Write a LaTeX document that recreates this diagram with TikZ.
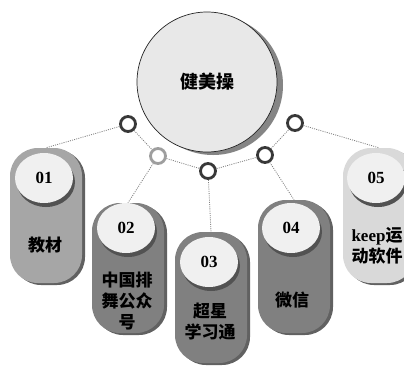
\documentclass[tikz,border=0pt]{standalone}
\usepackage{fontspec}
\setmainfont{Liberation Serif}
\newfontfamily\cjk{Noto Sans CJK SC}
\usetikzlibrary{positioning,shadows,shapes.geometric}

\begin{document}
\begin{tikzpicture}[x=1pt,y=-1pt,
  card/.style={rounded corners=28pt,minimum width=72pt,inner sep=0pt,
    general shadow={fill=black!62,shadow xshift=3pt,shadow yshift=-2pt}},
  numdisk/.style={ellipse,fill=black!6,minimum width=58pt,minimum height=50pt,inner sep=0pt,
    general shadow={fill=black!68,shadow xshift=2pt,shadow yshift=-4pt},
    font=\bfseries\fontsize{17}{20}\selectfont},
  tag/.style={align=center,inner sep=0pt,font=\cjk\bfseries\fontsize{17}{21}\selectfont},
  ring/.style={circle,draw=black!78,line width=2.8pt,fill=white,minimum size=15pt,inner sep=0pt},
  link/.style={draw=black!50,line width=0.8pt,dash pattern=on 1pt off 1.2pt}]
  \clip (0,0) rectangle (404,365);
  \fill[white] (0,0) rectangle (404,365);
  % centre
  \node[circle,fill=black!9,draw=black!85,line width=0.7pt,minimum size=140pt,
    general shadow={fill=black!48,shadow xshift=6pt,shadow yshift=-3pt},
    font=\cjk\bfseries\fontsize{18}{20}\selectfont] (hub) at (207,82) {健美操};
  % cards
  \node[card,fill=black!35,minimum height=135pt] (c1) at (46,215.5) {};
  \node[card,fill=black!50,minimum height=130pt] (c2) at (128,268) {};
  \node[card,fill=black!50,minimum height=131pt] (c3) at (211,297.5) {};
  \node[card,fill=black!50,minimum height=133pt] (c4) at (294,266.5) {};
  \node[card,fill=black!15,minimum height=135pt] (c5) at (379,215.5) {};
  \node[numdisk] (n1) at (44,178) {01};
  \node[numdisk] (n2) at (126,228) {02};
  \node[numdisk] (n3) at (209,262) {03};
  \node[numdisk] (n4) at (291,228) {04};
  \node[numdisk] (n5) at (376,178) {05};
  \node[tag] (l1) at (45,245) {教材};
  \node[tag] (l2) at (127,301) {中国排\\舞公众\\号};
  \node[tag] (l3) at (210,322) {超星\\学习通};
  \node[tag] (l4) at (292,300) {微信};
  \node[tag] (l5) at (377,246) {{\rmfamily\bfseries keep}运\\动软件};
  % rings
  \node[ring] (r1) at (128,124) {};
  \node[ring,draw=black!38] (r2) at (158,156) {};
  \node[ring] (r3) at (208,171) {};
  \node[ring] (r4) at (265,155) {};
  \node[ring] (r5) at (295,123) {};
  \draw[link] (r1) -- (r2) -- (r3) -- (r4) -- (r5);
  \draw[link] (r1) -- (c1.north);
  \draw[link] (r2) -- (c2.north);
  \draw[link] (r3) -- (c3.north);
  \draw[link] (r4) -- (c4.north);
  \draw[link] (r5) -- (c5.north);
\end{tikzpicture}
\end{document}
